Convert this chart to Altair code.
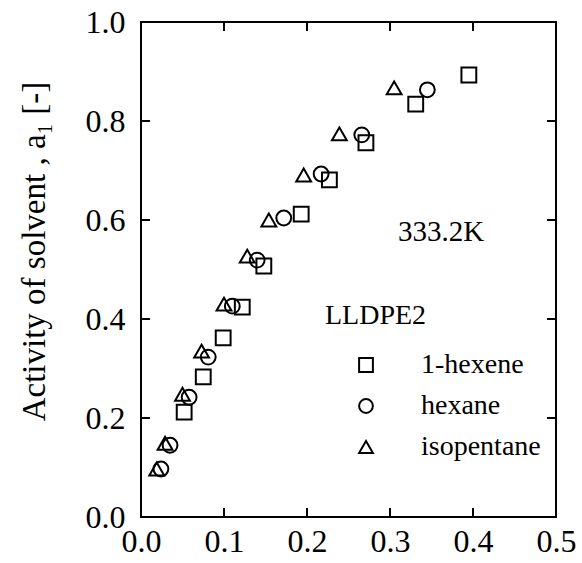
import altair as alt
import pandas as pd

# ---- data ----
solvents = ["1-hexene", "hexane", "isopentane"]
hexene_x = [0.052, 0.075, 0.099, 0.122, 0.148, 0.193, 0.227, 0.271, 0.331, 0.395]
hexene_y = [0.212, 0.283, 0.362, 0.424, 0.507, 0.612, 0.681, 0.756, 0.834, 0.893]
hexane_x = [0.024, 0.035, 0.058, 0.081, 0.110, 0.140, 0.172, 0.217, 0.266, 0.345]
hexane_y = [0.097, 0.145, 0.242, 0.323, 0.426, 0.519, 0.604, 0.693, 0.772, 0.863]
isopentane_x = [0.019, 0.029, 0.050, 0.073, 0.100, 0.128, 0.154, 0.196, 0.239, 0.305]
isopentane_y = [0.097, 0.149, 0.248, 0.335, 0.430, 0.527, 0.600, 0.691, 0.774, 0.867]

x_ticks = [0.0, 0.1, 0.2, 0.3, 0.4, 0.5]
y_ticks = [0.0, 0.2, 0.4, 0.6, 0.8, 1.0]
x_inner_ticks = [0.1, 0.2, 0.3, 0.4]
y_inner_ticks = [0.2, 0.4, 0.6, 0.8]
temperature_label = "333.2K"
polymer_label = "LLDPE2"
y_title = "Activity of solvent , a\u2081 [-]"

rows = []
for name, xs, ys in [("1-hexene", hexene_x, hexene_y),
                     ("hexane", hexane_x, hexane_y),
                     ("isopentane", isopentane_x, isopentane_y)]:
    for xv, yv in zip(xs, ys):
        rows.append({"x": xv, "y": yv, "solvent": name})
df = pd.DataFrame(rows)

W, H = 415, 495
FONT = "Liberation Serif"
TICK = 9

xscale = alt.Scale(domain=[0, 0.5], nice=False, zero=False)
yscale = alt.Scale(domain=[0, 1.0], nice=False, zero=False)

x_axis = alt.Axis(values=x_ticks, format=".1f", title=None, ticks=False,
                  domain=False, grid=False, labelFontSize=32, labelFont=FONT,
                  labelColor="black", labelPadding=9, labelFlush=False,
                  labelOverlap=False)
y_axis = alt.Axis(values=y_ticks, format=".1f", title=y_title, ticks=False,
                  domain=False, grid=False, labelFontSize=32, labelFont=FONT,
                  labelColor="black", labelPadding=16, labelFlush=False,
                  labelOverlap=False,
                  titleFont=FONT, titleFontSize=33, titleFontWeight="normal",
                  titleColor="black", titleX=-107, titleY=229,
                  titleAngle=270, titleAlign="center", titleBaseline="middle")

points = alt.Chart(df).mark_point(
    filled=False, color="black", strokeWidth=2, size=220, opacity=1
).encode(
    x=alt.X("x:Q", scale=xscale, axis=x_axis),
    y=alt.Y("y:Q", scale=yscale, axis=y_axis),
    shape=alt.Shape("solvent:N",
                    scale=alt.Scale(domain=solvents,
                                    range=["square", "circle", "triangle-up"]),
                    legend=alt.Legend(title=None, orient="none", legendX=211, legendY=329,
                                      labelFont=FONT, labelFontSize=28, labelColor="black",
                                      labelOffset=41, symbolSize=190, symbolStrokeWidth=2,
                                      symbolStrokeColor="black", symbolFillColor="transparent",
                                      rowPadding=13, padding=0)),
    order=alt.Order("solvent:N"),
)

xt = pd.DataFrame({"v": x_inner_ticks})
yt = pd.DataFrame({"v": y_inner_ticks})

bottom = alt.Chart(xt).mark_rule(color="black", strokeWidth=2).encode(
    x=alt.X("v:Q", scale=xscale, axis=x_axis), y=alt.value(H), y2=alt.value(H - TICK))
top = alt.Chart(xt).mark_rule(color="black", strokeWidth=2).encode(
    x=alt.X("v:Q", scale=xscale, axis=x_axis), y=alt.value(0), y2=alt.value(TICK))
left = alt.Chart(yt).mark_rule(color="black", strokeWidth=2).encode(
    y=alt.Y("v:Q", scale=yscale, axis=y_axis), x=alt.value(0), x2=alt.value(TICK))
right = alt.Chart(yt).mark_rule(color="black", strokeWidth=2).encode(
    y=alt.Y("v:Q", scale=yscale, axis=y_axis), x=alt.value(W - TICK), x2=alt.value(W))

ann = pd.DataFrame({"t": [temperature_label]})
temp_text = alt.Chart(ann).mark_text(
    font=FONT, fontSize=29, align="left", baseline="alphabetic", color="black"
).encode(text="t:N", x=alt.value(257), y=alt.value(219))

ann2 = pd.DataFrame({"t": [polymer_label]})
poly_text = alt.Chart(ann2).mark_text(
    font=FONT, fontSize=28, align="left", baseline="alphabetic", color="black"
).encode(text="t:N", x=alt.value(184), y=alt.value(302))

chart = alt.layer(points, bottom, top, left, right, temp_text, poly_text).properties(
    width=W, height=H,
    autosize=alt.AutoSizeParams(type="none"),
    padding={"left": 141, "top": 22, "right": 26, "bottom": 46},
    background="white",
).configure_view(
    stroke="black", strokeWidth=2
)

chart.save("out.html", embed_options={"renderer": "svg", "actions": False})
